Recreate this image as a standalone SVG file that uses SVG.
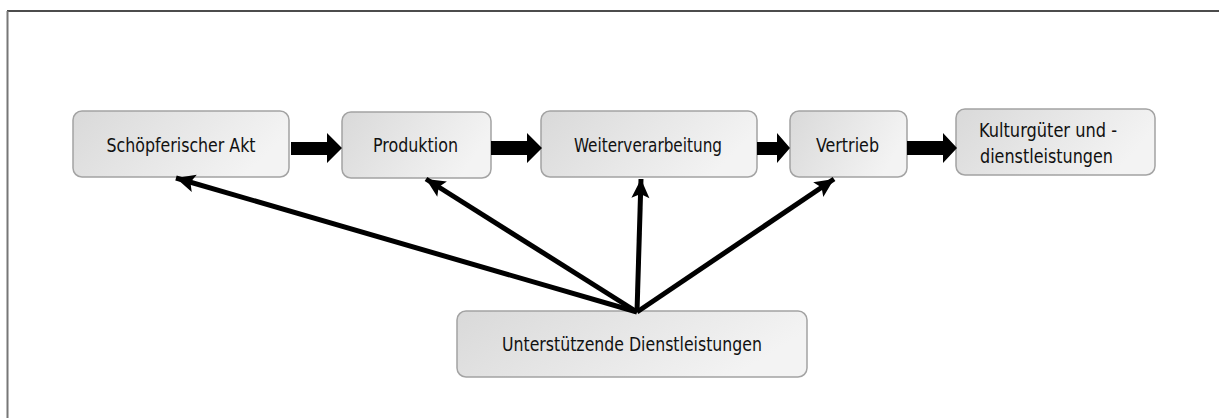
<svg xmlns="http://www.w3.org/2000/svg" width="1219" height="418" viewBox="0 0 1219 418">
<defs>
<linearGradient id="g" x1="0" y1="0" x2="1" y2="0.3">
<stop offset="0" stop-color="#d9d9d9"/>
<stop offset="1" stop-color="#f3f3f3"/>
</linearGradient>
<marker id="ah" markerUnits="userSpaceOnUse" markerWidth="22" markerHeight="22" viewBox="0 0 22 22" refX="20" refY="11" orient="auto">
<path d="M1,2 L20,11 L1,20 L5,11 Z" fill="#000"/>
</marker>
<style>
.box{fill:url(#g);stroke:#a3a3a3;stroke-width:1.5}
.t{font-family:"DejaVu Sans Condensed","Liberation Sans",sans-serif;font-size:19.5px;fill:#111;text-anchor:middle}
.blk{fill:#000}
.thin{stroke:#000;stroke-width:5;fill:none;marker-end:url(#ah)}
</style>
</defs>
<rect width="1219" height="418" fill="#fff"/>
<line x1="7" y1="11" x2="1219" y2="11" stroke="#111" stroke-width="1.5"/>
<line x1="7.5" y1="11" x2="7.5" y2="418" stroke="#777" stroke-width="2"/>

<g id="n1"><rect class="box" x="73" y="111" width="216" height="66" rx="9"/><text class="t" x="181" y="152" textLength="149" lengthAdjust="spacingAndGlyphs">Schöpferischer Akt</text></g>
<g id="n2"><rect class="box" x="342" y="112" width="149" height="66" rx="9"/><text class="t" x="415.5" y="152" textLength="85" lengthAdjust="spacingAndGlyphs">Produktion</text></g>
<g id="n3"><rect class="box" x="541" y="111" width="216" height="66" rx="9"/><text class="t" x="648" y="152" textLength="148" lengthAdjust="spacingAndGlyphs">Weiterverarbeitung</text></g>
<g id="n4"><rect class="box" x="790" y="111" width="117" height="66" rx="9"/><text class="t" x="847.5" y="152" textLength="63" lengthAdjust="spacingAndGlyphs">Vertrieb</text></g>
<g id="n5"><rect class="box" x="956" y="109" width="199" height="66" rx="9"/><text class="t" x="1048" y="137" textLength="138" lengthAdjust="spacingAndGlyphs">Kulturgüter und -</text><text class="t" x="1046.5" y="163" textLength="133" lengthAdjust="spacingAndGlyphs">dienstleistungen</text></g>
<g id="n6"><rect class="box" x="457" y="311" width="350" height="66" rx="9"/><text class="t" x="632" y="351" textLength="260" lengthAdjust="spacingAndGlyphs">Unterstützende Dienstleistungen</text></g>

<g id="connectors">
<polygon class="blk" points="291,142 327,142 327,133 342,148 327,163 327,155 291,155"/>
<polygon class="blk" points="491,141 527,141 527,133 542,148 527,163 527,155 491,155"/>
<polygon class="blk" points="757,142 777,142 777,133 790,148 777,163 777,155 757,155"/>
<polygon class="blk" points="907,141 943,141 943,133 957,148 943,163 943,155 907,155"/>
<line class="thin" x1="637" y1="312" x2="176" y2="178"/>
<line class="thin" x1="637" y1="312" x2="426" y2="179"/>
<line class="thin" x1="637" y1="312" x2="641" y2="179"/>
<line class="thin" x1="637" y1="312" x2="834" y2="179"/>
</g>
</svg>
